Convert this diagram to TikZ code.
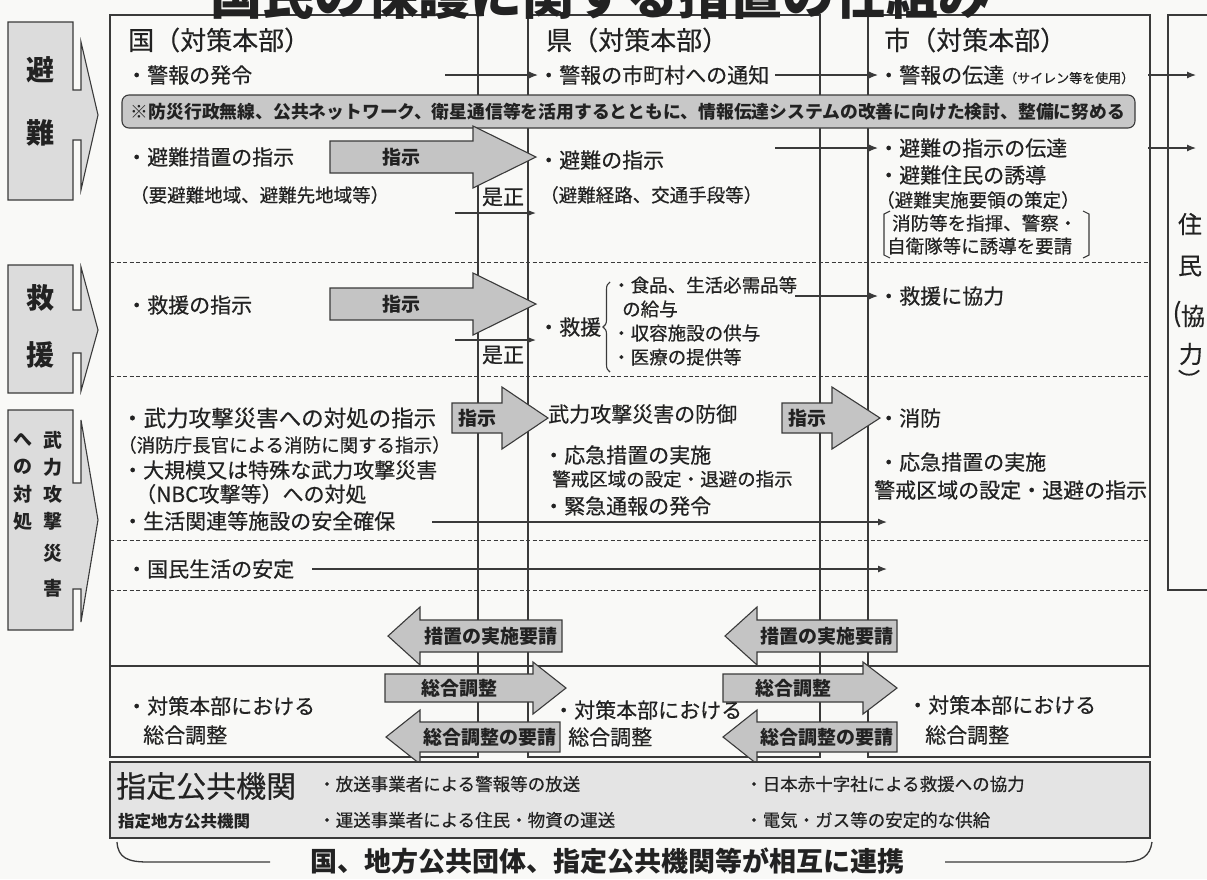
\documentclass[tikz,border=0pt]{standalone}
\usepackage{fontspec}
\newfontfamily\jp{Noto Sans CJK JP}
\newfontfamily\jpm{Noto Sans CJK JP}[FakeBold=0.45]
\usetikzlibrary{arrows.meta,decorations.pathreplacing}
\definecolor{ln}{HTML}{3A3A3A}
\definecolor{arrfill}{HTML}{C4C4C4}
\definecolor{catfill}{HTML}{DCDCDC}
\definecolor{banfill}{HTML}{C8C8C8}
\definecolor{orgfill}{HTML}{E4E4E4}
\definecolor{paper}{HTML}{F9F9F7}
\definecolor{ink}{HTML}{222222}
\newcommand\blockarrow[8]{%
  \draw[blk] (#2,#5-#6) -- (#3,#5-#6) -- (#3,#5-#7) -- (#4,#5) -- (#3,#5+#7) -- (#3,#5+#6) -- (#2,#5+#6) -- cycle;
  \node[blktxt] (#1) at ({(#2+#3)/2},#5) {#8};}
\tikzset{
  t/.style={anchor=west, inner sep=0pt, text=ink, font=\jpm\fontsize{21}{24}\selectfont},
  ts/.style={anchor=west, inner sep=0pt, text=ink, font=\jpm\fontsize{18.5}{22}\selectfont},
  th/.style={anchor=west, inner sep=0pt, text=ink, font=\jpm\fontsize{26}{30}\selectfont},
  box/.style={draw=ln, line width=1.1pt},
  sarr/.style={draw=ln, line width=1.2pt, -{Latex[length=9pt,width=7pt]}},
  dline/.style={draw=ln, line width=1pt, dash pattern=on 4pt off 2.5pt},
  blk/.style={draw=ln, line width=1.1pt, fill=arrfill},
  blktxt/.style={inner sep=0pt, text=ink, font=\jp\bfseries\fontsize{19}{22}\selectfont},
  cat/.style={draw=ln, line width=1.1pt, fill=catfill},
  catl/.style={inner sep=0pt, text=ink, font=\jp\bfseries\fontsize{28}{30}\selectfont},
  cats/.style={inner sep=0pt, text=ink, font=\jp\bfseries\fontsize{19}{22}\selectfont},
  jtxt/.style={inner sep=0pt, text=ink, font=\jpm\fontsize{24}{26}\selectfont},
}
\begin{document}
\begin{tikzpicture}[x=1pt,y=-1pt]
\useasboundingbox (0,0) rectangle (1207,879);
\fill[paper] (0,0) rectangle (1207,879);
% main columns
\draw[box] (110,15) rectangle (478,757);
\draw[box] (528,15) rectangle (820,757);
\draw[box] (868,15) rectangle (1150,757);
\draw[box] (1215,15) -- (1168,15) -- (1168,590) -- (1215,590);
% title (cut at top)
\begin{scope}
\clip (0,0) rectangle (1207,879);
\node[anchor=base, inner sep=0pt, text=ink, font=\jp\bfseries\fontsize{52}{52}\selectfont] (title) at (600,14) {国民の保護に関する措置の仕組み};
\end{scope}
% separators
\draw[dline] (110,262) -- (1150,262);
\draw[dline] (110,376) -- (1150,376);
\draw[dline] (110,540) -- (1150,540);
\draw[dline] (110,590) -- (1150,590);
\draw[box] (110,666) -- (1150,666);
% category boxes
\draw[cat] (8,22) -- (73,22) -- (73,90) -- (81,90) -- (81,42) -- (98,115) -- (81,190) -- (81,140) -- (73,140) -- (73,200) -- (8,200) -- cycle;
\node[catl] (cHi) at (40,70) {避};
\node[catl] (cNan) at (40,133) {難};
\draw[cat] (8,265) -- (73,265) -- (73,310) -- (81,310) -- (81,267) -- (98,330) -- (81,391) -- (81,353) -- (73,353) -- (73,393) -- (8,393) -- cycle;
\node[catl] (cKyu) at (40,298) {救};
\node[catl] (cEn) at (40,355) {援};
\draw[cat] (8,410) -- (73,410) -- (73,483) -- (81,483) -- (81,420) -- (98,520) -- (81,622) -- (81,589) -- (73,589) -- (73,630) -- (8,630) -- cycle;
\node[cats] (cB1) at (53,440) {武};
\node[cats] (cB2) at (53,467) {力};
\node[cats] (cB3) at (53,494) {攻};
\node[cats] (cB4) at (53,521) {撃};
\node[cats] (cB5) at (53,553) {災};
\node[cats] (cB6) at (53,588) {害};
\node[cats] (cT1) at (23,440) {へ};
\node[cats] (cT2) at (23,467) {の};
\node[cats] (cT3) at (23,494) {対};
\node[cats] (cT4) at (23,521) {処};
% headers
\node[th] (hKuni) at (128,40) {国（対策本部）};
\node[th] (hKen) at (546,40) {県（対策本部）};
\node[th] (hShi) at (884,40) {市（対策本部）};
% residents
\node[jtxt] (jJu) at (1190,224) {住};
\node[jtxt] (jMin) at (1190,266) {民};
\node[jtxt, font=\jpm\fontsize{26}{28}\selectfont] (jP1) at (1177,314) {(};
\node[jtxt] (jKyo) at (1193,316) {協};
\node[jtxt] (jRyoku) at (1191,354) {力};
\node[jtxt, font=\jpm\fontsize{22}{24}\selectfont] (jP2) at (1189,379) {︶};
% row: warning
\node[t] (k1) at (126,75) {・警報の発令};
\node[t] (k2) at (538,75) {・警報の市町村への通知};
\node[t] (k3) at (878,75) {・警報の伝達{\fontsize{13}{15}\selectfont（サイレン等を使用）}};
\coordinate (k1s) at (445,75);
\coordinate (k2s) at (775,75);
\coordinate (k3s) at (1148,75);
\coordinate (k3e) at (1196,75);
\draw[sarr] (k1s) -- (k2.west);
\draw[sarr] (k2s) -- (k3.west);
\draw[sarr] (k3s) -- (k3e);
% banner
\draw[box, fill=banfill, rounded corners=7pt] (122,95) rectangle (1135,128);
\node[inner sep=0pt, text=ink, font=\jp\bfseries\fontsize{17.8}{20}\selectfont] (banner) at (628,111.5) {※防災行政無線、公共ネットワーク、衛星通信等を活用するとともに、情報伝達システムの改善に向けた検討、整備に努める};
% row: evacuation
\node[t] (e1) at (126,157) {・避難措置の指示};
\node[ts] (e2) at (130,195) {（要避難地域、避難先地域等）};
\node[t] (e3) at (538,160) {・避難の指示};
\node[ts] (e4) at (540,195) {（避難経路、交通手段等）};
\node[t] (e5) at (878,148) {・避難の指示の伝達};
\node[t] (e6) at (878,175) {・避難住民の誘導};
\node[ts] (e7) at (876,200) {（避難実施要領の策定）};
\node[ts] (e8) at (892,223) {消防等を指揮、警察・};
\node[ts] (e9) at (887,246) {自衛隊等に誘導を要請};
\draw[ln, line width=1.1pt] (890,211) -- (884,214) -- (884,255) -- (890,258);
\draw[ln, line width=1.1pt] (1083,211) -- (1089,214) -- (1089,255) -- (1083,258);
\node[t, anchor=center] (z1) at (503,197) {是正};
\coordinate (z1s) at (455,213);
\coordinate (z1e) at (536,213);
\draw[sarr] (z1s) -- (z1e);
\coordinate (e3s) at (775,148);
\draw[sarr] (e3s) -- (e5.west);
\coordinate (e5s) at (1148,148);
\coordinate (e5e) at (1196,148);
\draw[sarr] (e5s) -- (e5e);
\blockarrow{aShiji1}{330}{473}{536}{157}{16}{31}{指示}
% row: relief
\node[t] (r1) at (126,305) {・救援の指示};
\node[t] (r2) at (538,327) {・救援};
\draw[ln, line width=1.1pt, decorate, decoration={brace, amplitude=7pt}] (610,372) -- (610,282);
\node[ts] (r3) at (612,285) {・食品、生活必需品等};
\node[ts] (r4) at (622,309) {の給与};
\node[ts] (r5) at (612,333) {・収容施設の供与};
\node[ts] (r6) at (612,357) {・医療の提供等};
\node[t] (r7) at (878,296) {・救援に協力};
\coordinate (r3s) at (795,296);
\draw[sarr] (r3s) -- (r7.west);
\node[t, anchor=center] (z2) at (503,355) {是正};
\coordinate (z2s) at (455,340);
\coordinate (z2e) at (536,340);
\draw[sarr] (z2s) -- (z2e);
\blockarrow{aShiji2}{330}{473}{536}{304}{16}{31}{指示}
% row: armed attack
\node[t, font=\jpm\fontsize{22.5}{25}\selectfont] (b1) at (121,418) {・武力攻撃災害への対処の指示};
\node[ts] (b2) at (118,445) {（消防庁長官による消防に関する指示）};
\node[t] (b3) at (122,470) {・大規模又は特殊な武力攻撃災害};
\node[t] (b4) at (135,494) {（NBC攻撃等）への対処};
\node[t] (b5) at (122,521) {・生活関連等施設の安全確保};
\node[t] (b6) at (548,414) {武力攻撃災害の防御};
\node[t] (b7) at (543,455) {・応急措置の実施};
\node[ts] (b8) at (552,479) {警戒区域の設定・退避の指示};
\node[t] (b9) at (543,506) {・緊急通報の発令};
\node[t] (b10) at (878,418) {・消防};
\node[t] (b11) at (878,462) {・応急措置の実施};
\node[t] (b12) at (874,490) {警戒区域の設定・退避の指示};
\node[t] (b13) at (126,569) {・国民生活の安定};
\coordinate (b5s) at (432,522);
\coordinate (b5e) at (887,522);
\draw[sarr] (b5s) -- (b5e);
\coordinate (b13s) at (312,569);
\coordinate (b13e) at (887,569);
\draw[sarr] (b13s) -- (b13e);
\blockarrow{aShiji3}{452}{502}{548}{418}{15}{31}{指示}
\blockarrow{aShiji4}{782}{832}{880}{418}{15}{31}{指示}
% requests
\blockarrow{aYosei1}{562}{420}{388}{636}{16}{29}{措置の実施要請}
\blockarrow{aYosei2}{897}{757}{725}{636}{16}{29}{措置の実施要請}
\blockarrow{aChosei1}{385}{533}{566}{688}{14}{26}{総合調整}
\blockarrow{aChosei2}{723}{863}{897}{688}{14}{26}{総合調整}
\blockarrow{aChoyo1}{560}{420}{386}{737}{15}{27}{総合調整の要請}
\blockarrow{aChoyo2}{897}{757}{723}{737}{15}{27}{総合調整の要請}
\node[t] (s1) at (126,706) {・対策本部における};
\node[t] (s2) at (143,735) {総合調整};
\node[t] (s3) at (553,710) {・対策本部における};
\node[t] (s4) at (568,737) {総合調整};
\node[t] (s5) at (907,705) {・対策本部における};
\node[t] (s6) at (925,735) {総合調整};
% designated public institutions
\draw[box, fill=orgfill] (110,762) rectangle (1150,838);
\node[th, font=\jpm\fontsize{30}{32}\selectfont] (o1) at (116,786) {指定公共機関};
\node[ts, font=\jp\bfseries\fontsize{16.5}{20}\selectfont] (o2) at (118,821) {指定地方公共機関};
\node[ts, font=\jpm\fontsize{17.5}{20}\selectfont] (o3) at (318,784) {・放送事業者による警報等の放送};
\node[ts, font=\jpm\fontsize{17.5}{20}\selectfont] (o4) at (318,820) {・運送事業者による住民・物資の運送};
\node[ts, font=\jpm\fontsize{17.5}{20}\selectfont] (o5) at (745,784) {・日本赤十字社による救援への協力};
\node[ts, font=\jpm\fontsize{17.5}{20}\selectfont] (o6) at (745,820) {・電気・ガス等の安定的な供給};
% bottom bracket
\node[inner sep=0pt, text=ink, font=\jp\bfseries\fontsize{27}{29}\selectfont] (bottom) at (607,861) {国、地方公共団体、指定公共機関等が相互に連携};
\coordinate (bl1) at (117,842);
\coordinate (bl2) at (270,862);
\coordinate (br1) at (945,862);
\coordinate (br2) at (1152,842);
\draw[ln, line width=1.3pt] (bl1) .. controls (118,858) and (128,862) .. (148,862) -- (bl2);
\draw[ln, line width=1.3pt] (br1) -- (1122,862) .. controls (1142,862) and (1150,856) .. (br2);
\end{tikzpicture}
\end{document}
